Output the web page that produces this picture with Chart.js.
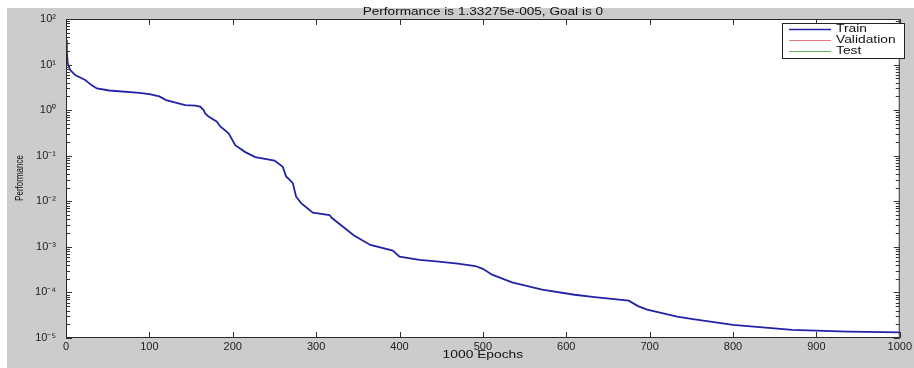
<!DOCTYPE html>
<html><head><meta charset="utf-8">
<script src="https://cdn.jsdelivr.net/npm/chart.js@4.4.1/dist/chart.umd.min.js"></script>
<style>html,body{margin:0;padding:0;background:#fff;overflow:hidden}#wrap{width:914px;height:368px}</style>
</head><body><div id="wrap"><canvas id="c" width="914" height="368"></canvas></div>
<script>
// ---- data ----
const epochs = [0,1,2,5,11,23,31,37,52,88,100,112,120,143,155,161,165,167,171,181,185,195,203,215,227,242,250,260,264,268,272,276,282,296,316,319,345,365,392,400,424,444,470,491,500,511,535,571,610,634,675,686,697,733,752,800,871,938,1000];
const trainPerf = [35,20,11,7.6,5.9,4.6,3.5,3.0,2.7,2.4,2.24,2.0,1.66,1.29,1.25,1.2,1.0,0.85,0.72,0.56,0.44,0.31,0.17,0.12,0.093,0.083,0.078,0.057,0.035,0.03,0.025,0.0126,0.0091,0.0056,0.005,0.0043,0.0018,0.0011,0.00083,0.00061,0.00052,0.00048,0.00043,0.00038,0.00033,0.000245,0.000166,0.000115,0.000089,0.000079,0.000066,0.00005,0.000042,0.0000295,0.000026,0.0000195,0.000015,0.0000138,0.0000133275];
const validationPerf = [];
const testPerf = [];
const seriesNames = ['Train','Validation','Test'];
const seriesColors = ['#2222a8','#e07a7a','#5fb35f'];
const xTickValues = [0,100,200,300,400,500,600,700,800,900,1000];
const yDecades = [-5,-4,-3,-2,-1,0,1,2];
const titleText = 'Performance is 1.33275e-005, Goal is 0';
const xLabel = '1000 Epochs';
const yLabel = 'Performance';

const SUP = {'0':'\u2070','1':'\u00b9','2':'\u00b2','3':'\u00b3','4':'\u2074','5':'\u2075','6':'\u2076','7':'\u2077','8':'\u2078','9':'\u2079','-':'\u207b'};
function powLabel(e){ return '10' + String(e).split('').map(c=>SUP[c]).join(''); }

const pts = arr => arr.map((v,i)=>({x:epochs[i], y:v}));

function stretchText(ctx, txt, x, y, size, sx, align){
  ctx.save();
  ctx.translate(x, y);
  ctx.scale(sx, 1);
  ctx.font = size + 'px "Liberation Sans", Arial, sans-serif';
  ctx.textAlign = align || 'left';
  ctx.textBaseline = 'middle';
  ctx.fillText(txt, 0, 0);
  ctx.restore();
}

const deco = {
  id: 'deco',
  beforeDraw(chart){
    const ctx = chart.ctx, a = chart.chartArea;
    ctx.save();
    ctx.fillStyle = '#ffffff';
    ctx.fillRect(0,0,chart.width,chart.height);
    ctx.fillStyle = '#cccccc';
    ctx.fillRect(7,8,chart.width-7,chart.height-8);
    ctx.fillStyle = '#ffffff';
    ctx.fillRect(a.left,a.top,a.right-a.left,a.bottom-a.top);
    ctx.restore();
  },
  afterDraw(chart){
    const ctx = chart.ctx, a = chart.chartArea;
    const xs = chart.scales.x, ys = chart.scales.y;
    ctx.save();
    ctx.strokeStyle = '#333333';
    ctx.lineWidth = 1;
    // inward ticks
    ctx.beginPath();
    xs.ticks.forEach(t=>{
      const px = Math.round(xs.getPixelForValue(t.value)) + 0.5;
      ctx.moveTo(px, a.bottom); ctx.lineTo(px, a.bottom-6);
      ctx.moveTo(px, a.top); ctx.lineTo(px, a.top+6);
    });
    ys.ticks.forEach(t=>{
      const py = Math.round(ys.getPixelForValue(t.value)) + 0.5;
      const len = t.major ? 6 : 4;
      ctx.moveTo(a.left, py); ctx.lineTo(a.left+len, py);
      ctx.moveTo(a.right, py); ctx.lineTo(a.right-len, py);
    });
    ctx.stroke();
    // box
    ctx.strokeStyle = '#2a2a2a';
    ctx.strokeRect(a.left+0.5, a.top+0.5, a.right-a.left-1, a.bottom-a.top-1);
    // title & labels
    ctx.fillStyle = '#111111';
    stretchText(ctx, titleText, (a.left+a.right)/2, 12, 10, 1.36, 'center');
    stretchText(ctx, xLabel, (a.left+a.right)/2, 355, 10, 1.38, 'center');
    ctx.save();
    ctx.translate(20, 178);
    ctx.rotate(-Math.PI/2);
    ctx.scale(1, 1.35);
    ctx.font = '8px "Liberation Sans", Arial, sans-serif';
    ctx.textAlign = 'center'; ctx.textBaseline = 'middle';
    ctx.fillText(yLabel, 0, 0);
    ctx.restore();
    // legend
    const bx = 782, by = 23, bw = 122, bh = 35;
    ctx.fillStyle = '#ffffff';
    ctx.fillRect(bx, by, bw, bh);
    ctx.strokeStyle = '#222222';
    ctx.strokeRect(bx+0.5, by+0.5, bw, bh);
    chart.data.datasets.forEach((ds,i)=>{
      const ly = by + 6.5 + i*11;
      ctx.strokeStyle = ds.borderColor;
      ctx.lineWidth = i===0 ? 1.5 : 1;
      ctx.beginPath(); ctx.moveTo(789, ly); ctx.lineTo(831, ly); ctx.stroke();
      ctx.fillStyle = '#111111';
      stretchText(ctx, ds.label, 836, ly, 10, 1.38, 'left');
    });
    ctx.restore();
  }
};

const datasets = [trainPerf, validationPerf, testPerf].map((arr,i)=>({
  label: seriesNames[i],
  data: pts(arr),
  borderColor: seriesColors[i],
  backgroundColor: seriesColors[i],
  borderWidth: 1.8,
  pointRadius: 0,
  tension: 0,
  fill: false
}));

new Chart(document.getElementById('c'), {
  type: 'line',
  data: { datasets },
  options: {
    responsive: false,
    animation: false,
    devicePixelRatio: 1,
    layout: { padding: { top: 19, right: 4, left: 0, bottom: 0 } },
    plugins: { legend: { display: false }, title: { display: false }, tooltip: { enabled: false } },
    scales: {
      x: {
        type: 'linear', min: 0, max: 1000,
        afterBuildTicks: s => { s.ticks = xTickValues.map(v=>({value:v})); },
        grid: { display: false, drawTicks: false, tickLength: 0 },
        border: { display: false },
        ticks: { autoSkip: false, maxRotation: 0, padding: 2, color: '#222',
                 font: { size: 11, family: '"Liberation Sans", Arial, sans-serif' },
                 callback: v => String(v) },
        afterFit: s => { s.height = 30; }
      },
      y: {
        type: 'logarithmic', min: 1e-5, max: 100,
        afterBuildTicks: s => {
          const t = [];
          yDecades.forEach(d => {
            const top = d === yDecades[yDecades.length-1] ? 1 : 9;
            for (let m = 1; m <= top; m++) t.push({ value: m*Math.pow(10,d), major: m===1, exp: d });
          });
          s.ticks = t;
        },
        grid: { display: false, drawTicks: false, tickLength: 0 },
        border: { display: false },
        ticks: { autoSkip: false, padding: 10, color: '#222',
                 font: { size: 11, family: '"Liberation Sans", Arial, sans-serif' },
                 callback: (v, i, ticks) => ticks[i].major ? powLabel(ticks[i].exp) : '' },
        afterFit: s => { s.width = 66; }
      }
    }
  },
  plugins: [deco]
});
</script>
</body></html>
